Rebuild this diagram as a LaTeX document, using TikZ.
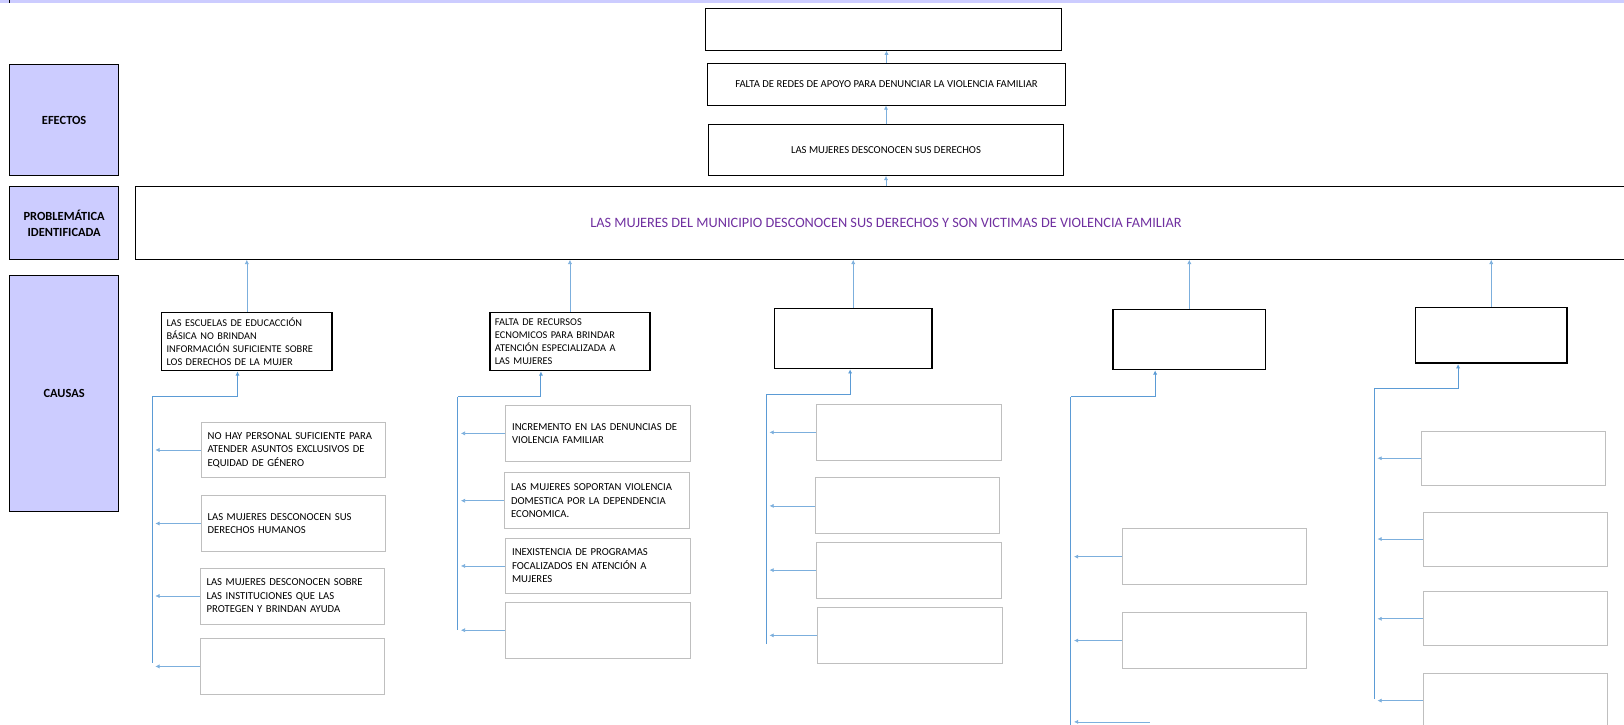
\documentclass[tikz,border=0pt]{standalone}
\usepackage{fontspec}
\setmainfont{Carlito}
\usepackage{tikz}
\usetikzlibrary{calc, arrows.meta, positioning}
\definecolor{labBlue}{HTML}{CCCCFF}
\definecolor{lineBlue}{HTML}{5B9BD5}
\definecolor{boxGray}{HTML}{BFBFBF}
\definecolor{probPurple}{HTML}{7030A0}

\begin{document}
\begin{tikzpicture}[x=1pt, y=-1pt, >=Latex,
    labbox/.style={draw, line width=0.9pt, fill=labBlue, align=center, anchor=north west,
        font=\fontsize{12}{15}\selectfont\bfseries},
    effbox/.style={draw, line width=0.9pt, anchor=north west, minimum height=40pt,
        font=\fontsize{10.3}{13}\selectfont},
    causebox/.style={draw, line width=1.6pt, anchor=north west, align=left, inner xsep=5pt,
        font=\fontsize{10}{12.5}\selectfont},
    subbox/.style={draw=boxGray, line width=0.9pt, anchor=north west, align=left, inner xsep=6pt,
        text width=166pt, minimum height=54pt, font=\fontsize{10.3}{13}\selectfont},
    arr/.style={-{Latex[length=4pt, width=4pt]}, lineBlue!80, line width=0.6pt},
    trunk/.style={lineBlue, line width=0.9pt}]
    \useasboundingbox (0,0) rectangle (1568,700);

    % top band
    \fill[labBlue] (0,0) rectangle (1568,3);
    \draw[line width=1pt] (9,0) -- (9,3);

    % row labels
    \node[labbox, minimum width=105pt, minimum height=107pt] (efectos) at (9,62) {EFECTOS};
    \node[labbox, minimum width=105pt, minimum height=70pt] (problema) at (9,180) {PROBLEMÁTICA\\IDENTIFICADA};
    \node[labbox, minimum width=105pt, minimum height=227pt] (causas) at (9,266) {CAUSAS};

    % problem
    \node[draw, line width=0.9pt, anchor=north west, minimum width=1450pt, minimum height=70pt,
        text=probPurple, font=\fontsize{13.8}{16}\selectfont] (prob) at (130,180)
        {LAS MUJERES DEL MUNICIPIO DESCONOCEN SUS DERECHOS Y SON VICTIMAS DE VIOLENCIA FAMILIAR};

    % effects
    \node[effbox, minimum width=342pt, minimum height=49pt] (e1) at (684,120) {LAS MUJERES DESCONOCEN SUS DERECHOS};
    \node[effbox, minimum width=345pt] (e2) at (683,61) {FALTA DE REDES DE APOYO PARA DENUNCIAR LA VIOLENCIA FAMILIAR};
    \node[effbox, minimum width=343pt] (e3) at (681,8) {};
    \draw[arr] (prob.north -| e1.south) -- (e1.south);
    \draw[arr] (e1.north) -- (e1.north |- e2.south);
    \draw[arr] (e2.north) -- (e2.north |- e3.south);

    % causes
    \node[causebox, text width=155pt, minimum height=56pt] (c1) at (155,301)
        {LAS ESCUELAS DE EDUCACCIÓN\\BÁSICA NO BRINDAN\\INFORMACIÓN SUFICIENTE SOBRE\\LOS DERECHOS DE LA MUJER};
    \node[causebox, text width=145pt, minimum height=56pt] (c2) at (472,301)
        {FALTA DE RECURSOS\\ECNOMICOS PARA BRINDAR\\ATENCIÓN ESPECIALIZADA A\\LAS MUJERES};
    \node[causebox, minimum width=152pt, minimum height=58pt] (c3) at (747,297) {};
    \node[causebox, minimum width=147pt, minimum height=58pt] (c4) at (1074,298) {};
    \node[causebox, minimum width=146pt, minimum height=54pt] (c5) at (1366,296) {};
    \foreach \c in {c1,c2,c3,c4,c5}
        \draw[arr] (\c.north) -- (\c.north |- prob.south);

    % sub-causes, column 1
    \node[subbox] (s11) at (194,407) {NO HAY PERSONAL SUFICIENTE PARA\\ATENDER ASUNTOS EXCLUSIVOS DE\\EQUIDAD DE GÉNERO};
    \node[subbox] (s12) at (194,478) {LAS MUJERES DESCONOCEN SUS\\DERECHOS HUMANOS};
    \node[subbox] (s13) at (193,548) {LAS MUJERES DESCONOCEN SOBRE\\LAS INSTITUCIONES QUE LAS\\PROTEGEN Y BRINDAN AYUDA};
    \node[subbox] (s14) at (193,616) {};
    \coordinate (t1) at (147,383);
    \coordinate (t1e) at (147,640);

    % sub-causes, column 2
    \node[subbox] (s21) at (488,391) {INCREMENTO EN LAS DENUNCIAS DE\\VIOLENCIA FAMILIAR};
    \node[subbox] (s22) at (487,456) {LAS MUJERES SOPORTAN VIOLENCIA\\DOMESTICA POR LA DEPENDENCIA\\ECONOMICA.};
    \node[subbox] (s23) at (488,519) {INEXISTENCIA DE PROGRAMAS\\FOCALIZADOS EN ATENCIÓN A\\MUJERES};
    \node[subbox] (s24) at (488,581) {};
    \coordinate (t2) at (442,383);
    \coordinate (t2e) at (442,608);

    % sub-causes, column 3
    \node[subbox] (s31) at (788,390) {};
    \node[subbox] (s32) at (787,461) {};
    \node[subbox] (s33) at (788,523) {};
    \node[subbox] (s34) at (789,586) {};
    \coordinate (t3) at (740,381);
    \coordinate (t3e) at (740,622);

    % sub-causes, column 4
    \node[subbox] (s41) at (1083,510) {};
    \node[subbox] (s42) at (1083,591) {};
    \coordinate (s43) at (1110,697);
    \coordinate (t4) at (1034,383);
    \coordinate (t4e) at (1034,702);

    % sub-causes, column 5
    \node[subbox, minimum height=52pt] (s51) at (1372,416) {};
    \node[subbox, minimum height=52pt] (s52) at (1374,494) {};
    \node[subbox, minimum height=52pt] (s53) at (1374,571) {};
    \node[subbox, minimum height=52pt] (s54) at (1374,650) {};
    \coordinate (t5) at (1327,375);
    \coordinate (t5e) at (1327,675);

    % trunks
    \draw[trunk] (t1e) -- (t1);
    \draw[arr, trunk] (t1) -| ([xshift=-9pt]c1.south);
    \draw[trunk] (t2e) -- (t2);
    \draw[arr, trunk] (t2) -| ([xshift=-28pt]c2.south);
    \draw[trunk] (t3e) -- (t3);
    \draw[arr, trunk] (t3) -| ([xshift=-3pt]c3.south);
    \draw[trunk] (t4e) -- (t4);
    \draw[arr, trunk] (t4) -| ([xshift=-33pt]c4.south);
    \draw[trunk] (t5e) -- (t5);
    \draw[arr, trunk] (t5) -| ([xshift=-32pt]c5.south);

    % branches
    \foreach \s in {s11,s12,s13,s14}
        \draw[arr] (\s.west) -- ($(\s.west -| t1)+(3,0)$);
    \foreach \s in {s21,s22,s23,s24}
        \draw[arr] (\s.west) -- ($(\s.west -| t2)+(3,0)$);
    \foreach \s in {s31,s32,s33,s34}
        \draw[arr] (\s.west) -- ($(\s.west -| t3)+(3,0)$);
    \foreach \s in {s41,s42}
        \draw[arr] (\s.west) -- ($(\s.west -| t4)+(3,0)$);
    \draw[arr] (s43) -- ($(s43 -| t4)+(3,0)$);
    \foreach \s in {s51,s52,s53,s54}
        \draw[arr] (\s.west) -- ($(\s.west -| t5)+(3,0)$);
\end{tikzpicture}
\end{document}
